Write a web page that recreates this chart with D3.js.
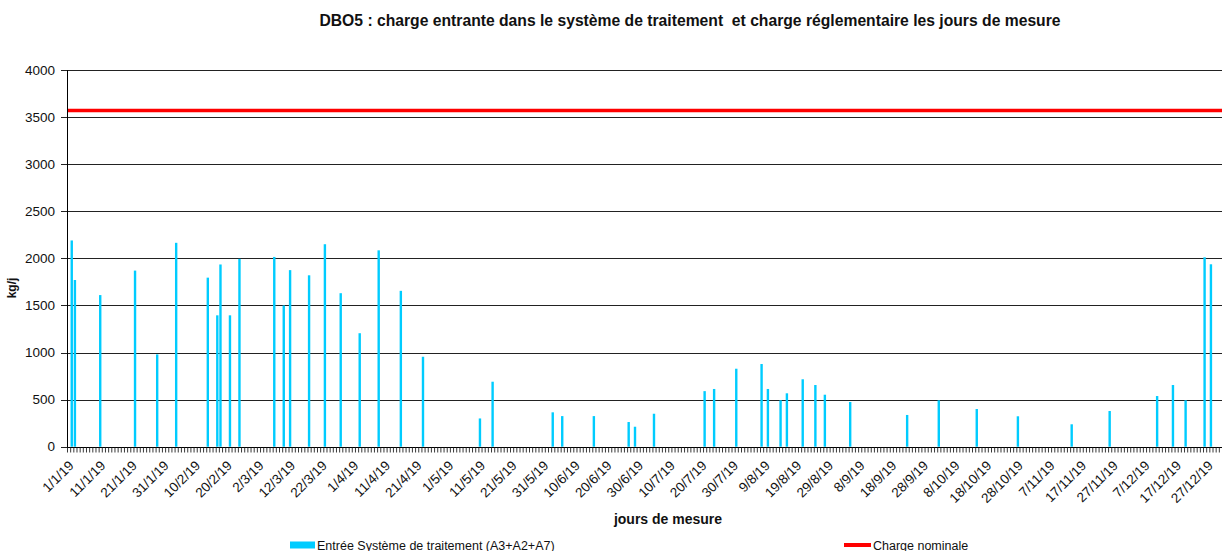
<!DOCTYPE html>
<html>
<head>
<meta charset="utf-8">
<script src="https://cdn.jsdelivr.net/npm/d3@7"></script>
<style>
  html, body { margin: 0; padding: 0; background: #fff; }
  svg { display: block; font-family: Arial, "Liberation Sans", sans-serif; }
</style>
</head>
<body>
<svg id="chart" width="1225" height="551"></svg>
<script>
// Measurement days (d/m/yy) and DBO5 incoming load (kg/j)
const measureDates = [
  "2/1/19", "3/1/19", "11/1/19", "22/1/19", "29/1/19", "4/2/19", "14/2/19", "17/2/19",
  "18/2/19", "21/2/19", "24/2/19", "7/3/19", "10/3/19", "12/3/19", "18/3/19", "23/3/19",
  "28/3/19", "3/4/19", "9/4/19", "16/4/19", "23/4/19", "11/5/19", "15/5/19", "3/6/19",
  "6/6/19", "16/6/19", "27/6/19", "29/6/19", "5/7/19", "21/7/19", "24/7/19", "31/7/19",
  "8/8/19", "10/8/19", "14/8/19", "16/8/19", "21/8/19", "25/8/19", "28/8/19", "5/9/19",
  "23/9/19", "3/10/19", "15/10/19", "28/10/19", "14/11/19", "26/11/19", "11/12/19", "16/12/19",
  "20/12/19", "26/12/19", "28/12/19"
];
const entreeValues = [
  2190, 1770, 1610, 1870, 980, 2165, 1795, 1395,
  1935, 1395, 1995, 2015, 1500, 1875, 1820, 2150,
  1630, 1205, 2085, 1655, 955, 300, 690, 365,
  325, 325, 262, 212, 350, 590, 613, 828,
  878, 613, 493, 567, 716, 655, 552, 475,
  337, 493, 400, 323, 238, 379, 538, 655,
  493, 2011, 1937
];
// Regulatory nominal load (kg/j)
const chargeNominale = 3570;

// Axis settings
const yTicks = [0, 500, 1000, 1500, 2000, 2500, 3000, 3500, 4000];
const labelEvery = 10; // one date label every 10 days

const titleText = "DBO5 : charge entrante dans le système de traitement  et charge réglementaire les jours de mesure";
const yTitle = "kg/j";
const xTitle = "jours de mesure";
const legendEntree = "Entrée Système de traitement (A3+A2+A7)";
const legendNominale = "Charge nominale";

const barColor = "#00CCFF";
const lineColor = "#FF0000";

const margin = { left: 67, right: 1222, top: 70, bottom: 446.7 };

const svg = d3.select("#chart");
const parse = d3.timeParse("%d/%m/%y");
const fmt = d => `${d.getDate()}/${d.getMonth() + 1}/19`;

const days = d3.timeDay.range(new Date(2019, 0, 1), new Date(2020, 0, 1));

const x = d3.scaleBand()
  .domain(days.map(d => +d))
  .range([margin.left, margin.right])
  .paddingInner(0).paddingOuter(0);

const y = d3.scaleLinear()
  .domain([0, 4000])
  .range([margin.bottom, margin.top]);

// Horizontal grid lines (extend slightly left of the axis as tick marks)
svg.append("g")
  .selectAll("line")
  .data(yTicks)
  .join("line")
  .attr("x1", margin.left - 6)
  .attr("x2", margin.right)
  .attr("y1", d => Math.round(y(d)) + 0.5)
  .attr("y2", d => Math.round(y(d)) + 0.5)
  .attr("stroke", "#222")
  .attr("stroke-width", 1);

// Y tick labels
svg.append("g")
  .selectAll("text")
  .data(yTicks)
  .join("text")
  .attr("x", 55)
  .attr("y", d => y(d))
  .attr("dy", "0.35em")
  .attr("text-anchor", "end")
  .attr("font-size", 13.5)
  .attr("fill", "#111")
  .text(d => d);

// Y axis line
svg.append("line")
  .attr("x1", margin.left + 0.5).attr("x2", margin.left + 0.5)
  .attr("y1", margin.top).attr("y2", margin.bottom + 1)
  .attr("stroke", "#000");

// Bars
const bw = 2.4;
svg.append("g")
  .selectAll("rect")
  .data(measureDates.map((d, i) => ({ date: parse(d), v: entreeValues[i] })))
  .join("rect")
  .attr("x", d => x(+d.date) + x.bandwidth() / 2 - bw / 2)
  .attr("width", bw)
  .attr("y", d => y(d.v))
  .attr("height", d => y(0) - y(d.v))
  .attr("fill", barColor);

// Nominal load line
svg.append("line")
  .attr("x1", margin.left + 1)
  .attr("x2", margin.right)
  .attr("y1", y(chargeNominale))
  .attr("y2", y(chargeNominale))
  .attr("stroke", lineColor)
  .attr("stroke-width", 3.5);

// X axis baseline
const x0 = Math.round(y(0)) + 0.5;
svg.append("line")
  .attr("x1", margin.left).attr("x2", margin.right)
  .attr("y1", x0).attr("y2", x0)
  .attr("stroke", "#000");

// Daily tick marks
svg.append("g")
  .selectAll("line")
  .data(days)
  .join("line")
  .attr("x1", d => x(+d) + 0.5)
  .attr("x2", d => x(+d) + 0.5)
  .attr("y1", x0)
  .attr("y2", x0 + 5)
  .attr("stroke", "#222")
  .attr("stroke-width", 0.9);

// Date labels every 10 days
svg.append("g")
  .selectAll("text")
  .data(days.filter((d, i) => i % labelEvery === 0))
  .join("text")
  .attr("transform", d => `translate(${x(+d) + x.bandwidth() / 2 + 6},${x0 + 19}) rotate(-45)`)
  .attr("text-anchor", "end")
  .attr("font-size", 13.5)
  .attr("fill", "#111")
  .text(fmt);

// Titles
svg.append("text")
  .attr("x", 690).attr("y", 26)
  .attr("text-anchor", "middle")
  .attr("font-size", 15.7).attr("font-weight", "bold")
  .attr("fill", "#111")
  .style("white-space", "pre")
  .text(titleText);

svg.append("text")
  .attr("transform", "translate(16,288) rotate(-90)")
  .attr("text-anchor", "middle")
  .attr("font-size", 12).attr("font-weight", "bold")
  .attr("fill", "#111")
  .text(yTitle);

svg.append("text")
  .attr("x", 668).attr("y", 524)
  .attr("text-anchor", "middle")
  .attr("font-size", 14).attr("font-weight", "bold")
  .attr("fill", "#111")
  .text(xTitle);

// Legend
const legY = 545;
svg.append("rect")
  .attr("x", 290).attr("y", legY - 3.5).attr("width", 25).attr("height", 7)
  .attr("fill", barColor);
svg.append("text")
  .attr("x", 317).attr("y", legY + 4.5)
  .attr("font-size", 12.5).attr("fill", "#111")
  .text(legendEntree);
svg.append("line")
  .attr("x1", 844).attr("x2", 871)
  .attr("y1", legY).attr("y2", legY)
  .attr("stroke", lineColor).attr("stroke-width", 4);
svg.append("text")
  .attr("x", 873).attr("y", legY + 4.5)
  .attr("font-size", 12.5).attr("fill", "#111")
  .text(legendNominale);
</script>
</body>
</html>
